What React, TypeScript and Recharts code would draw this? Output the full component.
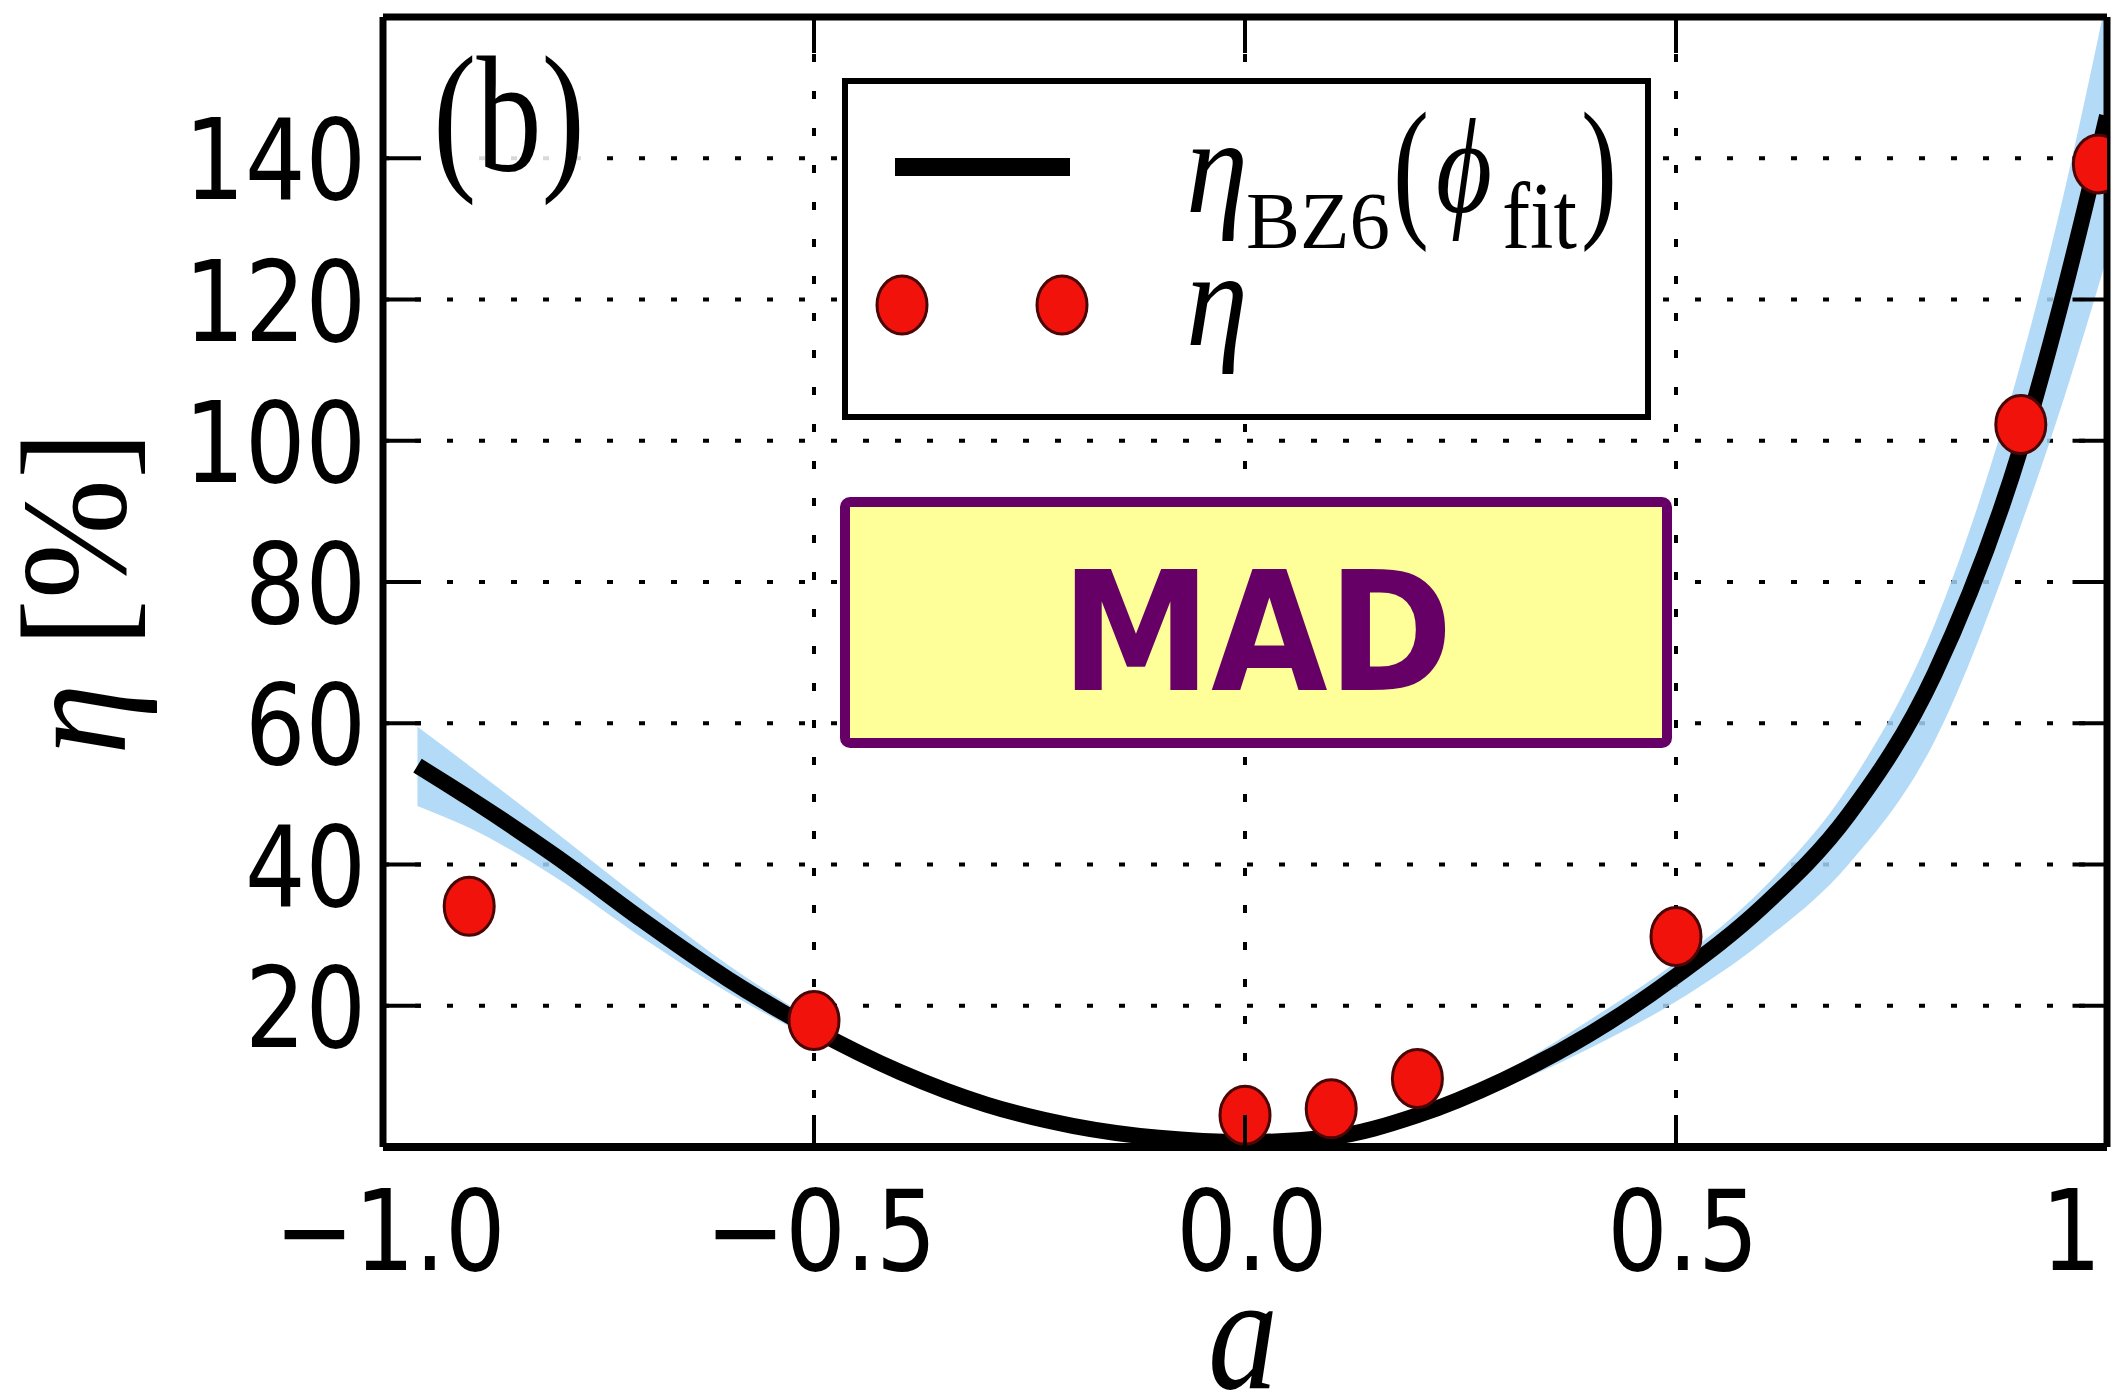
import React from 'react';
import {
  ComposedChart,
  Line,
  Area,
  Scatter,
  XAxis,
  YAxis,
  CartesianGrid,
  ReferenceLine,
  Customized,
} from 'recharts';

// ---------- data ----------
const xTicks = [-1, -0.5, 0, 0.5, 1];
const xTickLabels = ['−1.0', '−0.5', '0.0', '0.5', '1'];
const topTicks = [-0.5, 0, 0.5];
const yTicks = [20, 40, 60, 80, 100, 120, 140];
const yTickLabels = ['20', '40', '60', '80', '100', '120', '140'];
const Y_MAX = 160;
const X_MAX = 1;

// fitted curve eta_BZ6(phi_fit)
const fitA = [-0.96, -0.9, -0.8, -0.7, -0.6, -0.5, -0.4, -0.3, -0.2, -0.1, 0.0, 0.1, 0.2, 0.3, 0.4, 0.5, 0.6, 0.7, 0.8, 0.9, 0.95, 1.0];
const fitEta = [54.0, 49.4, 41.2, 32.2, 23.8, 16.6, 10.6, 6.0, 3.0, 1.3, 0.7, 1.4, 4.5, 9.5, 16.0, 24.2, 34.0, 47.0, 67.0, 99.0, 121.0, 146.0];
// confidence band
const bandLo = [48.3, 45.2, 38.2, 29.7, 21.9, 15.3, 9.8, 5.5, 2.7, 1.2, 0.6, 1.2, 4.0, 8.4, 14.0, 20.6, 29.0, 40.0, 57.5, 88.0, 106.0, 126.0];
const bandHi = [59.5, 54.0, 44.6, 35.0, 25.8, 18.0, 11.5, 6.5, 3.3, 1.4, 0.8, 1.6, 5.0, 10.6, 18.0, 26.2, 36.5, 51.0, 74.0, 111.0, 135.0, 163.0];

// measured eta points
const pointA = [-0.9, -0.5, 0.0, 0.1, 0.2, 0.5, 0.9, 0.99];
const pointEta = [34.1, 17.9, 4.5, 5.4, 9.7, 29.8, 102.3, 139.2];

const fitData = fitA.map((a, i) => ({ a, fit: fitEta[i], band: [bandLo[i], bandHi[i]] }));
const pointData = pointA.map((a, i) => ({ a, eta: pointEta[i] }));

// ---------- styling helpers ----------
const RED = '#f2120c';
const RED_EDGE = '#4a0505';
const PURPLE = '#660066';
const TICK_FS = 112;
const TICK_SX = 0.85;
// inward tick lengths in data units (top / right mirrored ticks)
const TOP_TICK_LEN = 5.1;
const RIGHT_TICK_LEN = 0.04;
const charW: Record<string, number> = { '.': 0.318, '−': 0.838 };
const txtLen = (s: string) =>
  s.split('').reduce((acc, c) => acc + (charW[c] !== undefined ? charW[c] : 0.636), 0) * TICK_FS * TICK_SX;

const XTick = (props: any) => {
  const { x, y, payload } = props;
  const idx = xTicks.indexOf(payload.value);
  const label = idx >= 0 ? xTickLabels[idx] : '';
  const isLast = payload.value === 1;
  return (
    <g>
      <line x1={x} y1={y} x2={x} y2={y - 32} stroke="#000" strokeWidth={4} />
      <text
        x={isLast ? x - 66 : x + 7}
        y={y + 123}
        textAnchor={isLast ? 'start' : 'middle'}
        fontFamily="DejaVu Sans"
        fontSize={TICK_FS}
        fill="#000"
        textLength={txtLen(label)}
        lengthAdjust="spacingAndGlyphs"
      >
        {label}
      </text>
    </g>
  );
};

const YTick = (props: any) => {
  const { x, y, payload } = props;
  const idx = yTicks.indexOf(payload.value);
  const label = idx >= 0 ? yTickLabels[idx] : '';
  return (
    <g>
      <line x1={x} y1={y} x2={x + 38} y2={y} stroke="#000" strokeWidth={4} />
      <text
        x={x - 17}
        y={y + 41}
        textAnchor="end"
        fontFamily="DejaVu Sans"
        fontSize={TICK_FS}
        fill="#000"
        textLength={txtLen(label)}
        lengthAdjust="spacingAndGlyphs"
      >
        {label}
      </text>
    </g>
  );
};

const Dot = (props: any) => {
  const { cx, cy } = props;
  if (cx == null || cy == null) return null;
  return <ellipse cx={cx} cy={cy} rx={25} ry={29} fill={RED} stroke={RED_EDGE} strokeWidth={3} />;
};

const SERIF = 'Liberation Serif, DejaVu Serif, serif';

const Annotations = () => (
  <g>
    {/* panel label with translucent box */}
    <rect x={408} y={35} width={185} height={190} fill="#fff" fillOpacity={0.85} />
    <text x={433} y={170} fontFamily={SERIF} fontSize={165} fill="#000" textLength={152} lengthAdjust="spacingAndGlyphs">
      (b)
    </text>

    {/* legend */}
    <rect x={845} y={81} width={803} height={336} fill="#fff" stroke="#000" strokeWidth={6} />
    <line x1={895} y1={167} x2={1070} y2={167} stroke="#000" strokeWidth={18} />
    <ellipse cx={902} cy={305} rx={25} ry={29} fill={RED} stroke={RED_EDGE} strokeWidth={3} />
    <ellipse cx={1062} cy={305} rx={25} ry={29} fill={RED} stroke={RED_EDGE} strokeWidth={3} />
    <text x={1186} y={212} fontFamily={SERIF} fontStyle="italic" fontSize={135} fill="#000" textLength={62} lengthAdjust="spacingAndGlyphs">η</text>
    <text x={1246} y={248} fontFamily={SERIF} fontSize={80} fill="#000" textLength={144} lengthAdjust="spacingAndGlyphs">BZ6</text>
    <text x={1393} y={219} fontFamily={SERIF} fontSize={155} fill="#000" textLength={36} lengthAdjust="spacingAndGlyphs">(</text>
    <text x={1436} y={212} fontFamily={SERIF} fontStyle="italic" fontSize={135} fill="#000" textLength={56} lengthAdjust="spacingAndGlyphs">ϕ</text>
    <text x={1502} y={248} fontFamily={SERIF} fontSize={96} fill="#000" textLength={75} lengthAdjust="spacingAndGlyphs">fit</text>
    <text x={1581} y={219} fontFamily={SERIF} fontSize={155} fill="#000" textLength={36} lengthAdjust="spacingAndGlyphs">)</text>
    <text x={1186} y={345} fontFamily={SERIF} fontStyle="italic" fontSize={135} fill="#000" textLength={62} lengthAdjust="spacingAndGlyphs">η</text>

    {/* MAD tag */}
    <rect x={845} y={502} width={822} height={241} rx={5} fill="#ffff99" stroke={PURPLE} strokeWidth={10} />
    <text x={1061} y={690} fontFamily="DejaVu Sans, Verdana, sans-serif" fontWeight="bold" fontSize={165} fill={PURPLE} textLength={392} lengthAdjust="spacingAndGlyphs">
      MAD
    </text>

    {/* axis labels */}
    <text x={1243} y={1388} textAnchor="middle" fontFamily={SERIF} fontStyle="italic" fontSize={165} fill="#000" textLength={70} lengthAdjust="spacingAndGlyphs">
      a
    </text>
    <text
      transform="translate(125,593) rotate(-90)"
      textAnchor="middle"
      fontFamily={SERIF}
      fontSize={150}
      fill="#000"
      textLength={324}
      lengthAdjust="spacingAndGlyphs"
    >
      <tspan fontStyle="italic">η</tspan>
      <tspan> [%]</tspan>
    </text>
  </g>
);

export default function App() {
  return (
    <div style={{ position: 'absolute', left: 0, top: 0, width: 2114, height: 1398, background: '#fff', overflow: 'hidden' }}>
      <ComposedChart
        width={2114}
        height={1398}
        margin={{ top: 17, right: 7, bottom: 0, left: 0 }}
      >
        <CartesianGrid vertical={false} stroke="#000" strokeWidth={4} strokeDasharray="6 26" />
        <CartesianGrid horizontal={false} stroke="#000" strokeWidth={4} strokeDasharray="8 29" />
        <XAxis
          dataKey="a"
          type="number"
          domain={[-1, X_MAX]}
          ticks={xTicks}
          interval={0}
          allowDataOverflow
          height={251}
          tickSize={0}
          tickMargin={0}
          tickLine={false}
          axisLine={{ stroke: '#000', strokeWidth: 8 }}
          tick={<XTick />}
        />
        <YAxis
          type="number"
          domain={[0, Y_MAX]}
          ticks={yTicks}
          interval={0}
          allowDataOverflow
          width={383}
          tickSize={0}
          tickMargin={0}
          tickLine={false}
          axisLine={{ stroke: '#000', strokeWidth: 7 }}
          tick={<YTick />}
        />
        <Area
          data={fitData}
          dataKey="band"
          type="monotone"
          stroke="none"
          fill="#a6d4f4"
          fillOpacity={0.85}
          isAnimationActive={false}
          dot={false}
          activeDot={false}
        />
        <Line
          data={fitData}
          dataKey="fit"
          type="monotone"
          stroke="#000"
          strokeWidth={16}
          dot={false}
          activeDot={false}
          isAnimationActive={false}
        />
        <Scatter data={pointData} dataKey="eta" shape={<Dot />} isAnimationActive={false} />
        {/* top and right frame with mirrored inward ticks */}
        <ReferenceLine y={Y_MAX} stroke="#000" strokeWidth={7} />
        <ReferenceLine x={X_MAX} stroke="#000" strokeWidth={7} />
        {topTicks.map((t) => (
          <ReferenceLine
            key={`tt${t}`}
            segment={[{ x: t, y: Y_MAX }, { x: t, y: Y_MAX - TOP_TICK_LEN }]}
            stroke="#000"
            strokeWidth={4}
          />
        ))}
        {yTicks.map((t) => (
          <ReferenceLine
            key={`rt${t}`}
            segment={[{ x: X_MAX, y: t }, { x: X_MAX - RIGHT_TICK_LEN, y: t }]}
            stroke="#000"
            strokeWidth={4}
          />
        ))}
        <Customized component={Annotations} />
      </ComposedChart>
    </div>
  );
}
